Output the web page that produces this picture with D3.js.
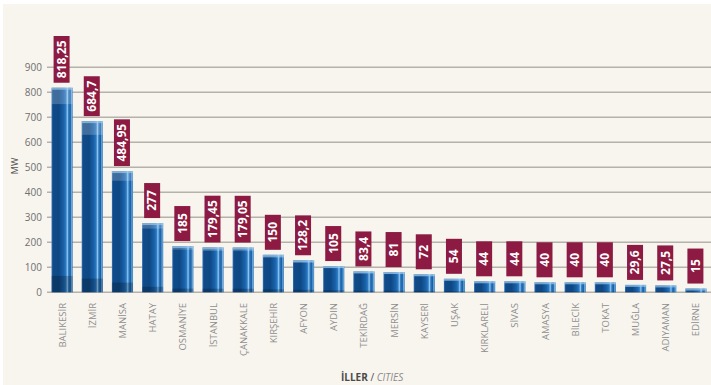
<!DOCTYPE html>
<html>
<head>
<meta charset="utf-8">
<script src="https://cdn.jsdelivr.net/npm/d3@7"></script>
<style>
  html, body { margin: 0; padding: 0; background: #ffffff; }
  svg { display: block; }
</style>
</head>
<body>
<svg id="chart" width="711" height="385"></svg>
<script>
// Installed capacity by province (MW)
const cities = ["BALIKESİR", "İZMİR", "MANİSA", "HATAY", "OSMANİYE", "İSTANBUL", "ÇANAKKALE",
  "KIRŞEHİR", "AFYON", "AYDIN", "TEKİRDAĞ", "MERSİN", "KAYSERİ", "UŞAK", "KIRKLARELİ",
  "SİVAS", "AMASYA", "BİLECİK", "TOKAT", "MUĞLA", "ADIYAMAN", "EDİRNE"];
const capacity = [818.25, 684.7, 484.95, 277, 185, 179.45, 179.05, 150, 128.2, 105, 83.4,
  81, 72, 54, 44, 44, 40, 40, 40, 29.6, 27.5, 15];
const valueLabels = ["818,25", "684,7", "484,95", "277", "185", "179,45", "179,05", "150",
  "128,2", "105", "83,4", "81", "72", "54", "44", "44", "40", "40", "40", "29,6", "27,5", "15"];
const yTicks = [0, 100, 200, 300, 400, 500, 600, 700, 800, 900];

const svg = d3.select("#chart");
const W = 711, H = 385;

// cream panel
svg.append("rect").attr("x", 3).attr("y", 4).attr("width", W - 3).attr("height", H - 4)
  .attr("fill", "#f8f5ee");

const x = d3.scaleBand().domain(cities).range([47, 711]).paddingInner(0.3).paddingOuter(0.15);
const y = d3.scaleLinear().domain([0, 900]).range([292.3, 67.3]);

// bar gradient: dark left body, light highlight stripe near the right edge
const defs = svg.append("defs");
const grad = defs.append("linearGradient").attr("id", "barGrad")
  .attr("x1", "0%").attr("x2", "100%").attr("y1", "0%").attr("y2", "0%");
[["0%", "#3576b8"], ["7%", "#104a88"], ["35%", "#0e4884"], ["58%", "#1a62aa"],
 ["68%", "#2b7ac2"], ["75%", "#8fc6ef"], ["81%", "#2e77bc"], ["89%", "#1b60a5"],
 ["95%", "#6eaee3"], ["100%", "#2f70b0"]]
  .forEach(([o, c]) => grad.append("stop").attr("offset", o).attr("stop-color", c));

// gridlines + y labels
const yAxis = d3.axisLeft(y).tickValues(yTicks).tickSize(0).tickPadding(5);
const gy = svg.append("g").attr("transform", "translate(47,0)").call(yAxis);
gy.select(".domain").remove();
gy.selectAll("text").attr("font-family", "Open Sans").attr("font-size", 10)
  .attr("fill", "#6f6f6f");
svg.append("g").selectAll("line").data(yTicks).join("line")
  .attr("x1", 47).attr("x2", W).attr("y1", d => y(d)).attr("y2", d => y(d))
  .attr("stroke", "#b4b2aa").attr("stroke-width", 1.6);

// MW axis title
svg.append("text").attr("transform", "translate(18,166) rotate(-90)")
  .attr("text-anchor", "middle").attr("font-family", "Open Sans").attr("font-size", 9)
  .attr("fill", "#555").text("MW");

const data = cities.map((c, i) => ({ c, v: capacity[i], label: valueLabels[i] }));

const bars = svg.append("g").selectAll("g").data(data).join("g");
bars.append("rect")
  .attr("x", d => x(d.c)).attr("width", x.bandwidth())
  .attr("y", d => y(d.v)).attr("height", d => y(0) - y(d.v))
  .attr("fill", "url(#barGrad)");
// lighter top section
bars.append("rect")
  .attr("x", d => x(d.c)).attr("width", x.bandwidth())
  .attr("y", d => y(d.v)).attr("height", d => (y(0) - y(d.v)) * 0.08)
  .attr("fill", "#ffffff").attr("opacity", 0.2);
// light rim along the top edge
bars.append("rect")
  .attr("x", d => x(d.c)).attr("width", x.bandwidth())
  .attr("y", d => y(d.v)).attr("height", d => Math.min(2, y(0) - y(d.v)))
  .attr("fill", "#9cc9ee").attr("opacity", 0.7);
// darker base section
bars.append("rect")
  .attr("x", d => x(d.c)).attr("width", x.bandwidth())
  .attr("y", d => y(0) - (y(0) - y(d.v)) * 0.08).attr("height", d => (y(0) - y(d.v)) * 0.08)
  .attr("fill", "#000000").attr("opacity", 0.22);

// value tags
const tags = svg.append("g").selectAll("g").data(data).join("g")
  .attr("transform", d => `translate(${x(d.c) + x.bandwidth() / 2 - 0.5},${y(d.v) - 5})`);
tags.each(function (d) {
  const g = d3.select(this);
  const t = g.append("text").attr("transform", "rotate(-90)")
    .attr("font-family", "Open Sans").attr("font-weight", 700).attr("font-size", 12)
    .attr("fill", "#ffffff").attr("text-anchor", "middle").attr("dy", "0.36em")
    .text(d.label);
  const len = t.node().getComputedTextLength();
  const h = Math.max(35, len + 9);
  g.insert("rect", "text").attr("x", -8).attr("width", 16).attr("y", -h).attr("height", h)
    .attr("fill", "#8c1a42");
  t.attr("x", h / 2);
});

// category labels
svg.append("g").selectAll("text").data(cities).join("text")
  .attr("transform", d => `translate(${x(d) + x.bandwidth() / 2 + 3.5},303) rotate(-90)`)
  .attr("text-anchor", "end").attr("font-family", "Open Sans").attr("font-size", 9.5)
  .attr("fill", "#8e8e8e").text(d => d);

// x axis title
const xt = svg.append("text").attr("x", 341).attr("y", 381)
  .attr("font-family", "Open Sans").attr("font-size", 10);
xt.append("tspan").attr("font-weight", 700).attr("fill", "#4a4a4a").text("İLLER");
xt.append("tspan").attr("fill", "#4a4a4a").text(" / ");
xt.append("tspan").attr("font-style", "italic").attr("fill", "#8a8a8a").text("CITIES");
</script>
</body>
</html>
